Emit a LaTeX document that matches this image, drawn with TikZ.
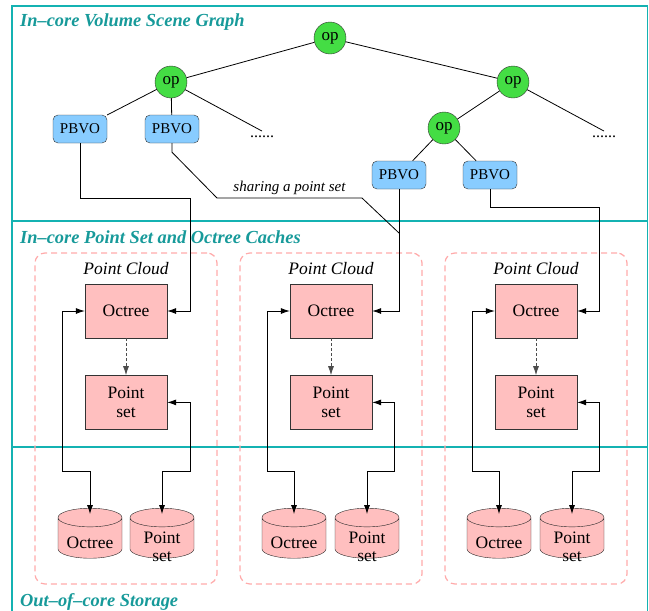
\documentclass[tikz,border=0pt]{standalone}
\usepackage{fontspec}
\setmainfont{Liberation Serif}
\usetikzlibrary{shapes.geometric,arrows.meta,positioning}
\definecolor{cFrame}{HTML}{14B2B2}
\definecolor{cTitle}{HTML}{179A9A}
\definecolor{cOp}{HTML}{44DD44}
\definecolor{cVol}{HTML}{88CCFF}
\definecolor{cCache}{HTML}{FFBFBF}
\definecolor{cGroup}{HTML}{FFAAAA}
\newcommand\boxfont{\fontsize{17.5}{18.5}\selectfont}
\tikzset{
  frame/.style  ={draw=cFrame, line width=1.6pt},
  sect/.style   ={anchor=west, text=cTitle, inner sep=0pt,
                  font=\fontsize{18.4}{20}\selectfont\bfseries\itshape},
  opn/.style    ={circle, draw=black!80, fill=cOp, minimum size=32pt,
                  inner sep=0pt, font=\fontsize{17}{18}\selectfont},
  vol/.style    ={rectangle, rounded corners=5pt, draw=black!80, fill=cVol,
                  minimum width=54pt, minimum height=28pt, inner sep=0pt,
                  font=\fontsize{15}{16}\selectfont},
  more/.style   ={inner sep=0pt, outer sep=5pt, font=\fontsize{16}{16}\selectfont},
  cache/.style  ={rectangle, draw=black!80, fill=cCache, minimum width=82pt,
                  minimum height=54pt, inner sep=0pt, align=center, font=\boxfont},
  store/.style  ={cylinder, shape border rotate=90, aspect=0.3, draw=black!85,
                  fill=cCache, text width=62pt, minimum width=64pt, minimum height=50pt,
                  inner sep=0pt},
  grp/.style    ={rectangle, rounded corners=10pt, draw=cGroup, line width=1.2pt,
                  dash pattern=on 6pt off 4pt, minimum width=182pt, minimum height=331pt},
  grplbl/.style ={font=\boxfont\itshape},
  br/.style     ={draw=black, line width=0.8pt},
  fl/.style     ={-{Latex[length=9pt,width=6pt]}, draw=black, line width=0.8pt},
  dfl/.style    ={{Latex[length=9pt,width=6pt]}-{Latex[length=9pt,width=6pt]},
                  draw=black, line width=0.8pt, shorten >=-6pt},
  dl/.style     ={-{Latex[length=9pt,width=6pt]}, draw=black!70, line width=0.8pt,
                  dash pattern=on 3pt off 2pt},
  lbl/.style    ={font=\fontsize{15}{16}\selectfont\itshape, inner sep=1pt},
}

\begin{document}
\begin{tikzpicture}[x=1pt,y=-1pt]
  \useasboundingbox (0,0) rectangle (649,611);

  % layers
  \draw[frame] (12,611) -- (12,6) -- (647.5,6) -- (647.5,611);
  \draw[frame] (12,221) -- (647.5,221);
  \draw[frame] (12,447) -- (647.5,447);
  \node[sect] (tScene) at (20,22)  {In–core Volume Scene Graph};
  \node[sect] (tCache) at (20,237) {In–core Point Set and Octree Caches};
  \node[sect] (tStore) at (20,602) {Out–of–core Storage};

  % point cloud groups
  \node[grp] (pc1) at (126,418.5) {};
  \node[grp] (pc2) at (331,418.5) {};
  \node[grp] (pc3) at (536,418.5) {};
  \node[grplbl] (pcl1) at (126,269) {Point Cloud};
  \node[grplbl] (pcl2) at (331,269) {Point Cloud};
  \node[grplbl] (pcl3) at (536,269) {Point Cloud};

  % scene graph
  \node[opn] (op0)  at (330,38)  {op};
  \node[opn] (opL)  at (171,82)  {op};
  \node[opn] (opR)  at (513,82)  {op};
  \node[opn] (opRL) at (444,128) {op};
  \node[vol] (pbvo1) at (80,129)  {PBVO};
  \node[vol] (pbvo2) at (172,129) {PBVO};
  \node[vol] (pbvo3) at (399,175) {PBVO};
  \node[vol] (pbvo4) at (490,175) {PBVO};
  \node[more] (dotsL) at (262,137) {......};
  \node[more] (dotsR) at (604,137) {......};

  \draw[br] (op0) -- (opL); \draw[br] (op0) -- (opR);
  \draw[br] (opL) -- (pbvo1); \draw[br] (opL) -- (pbvo2); \draw[br] (opL) -- (dotsL.north);
  \draw[br] (opR) -- (opRL); \draw[br] (opR) -- (dotsR.north);
  \draw[br] (opRL) -- (pbvo3); \draw[br] (opRL) -- (pbvo4);

  % caches
  \node[cache] (oct1) at (126,311) {Octree};
  \node[cache,below=37pt of oct1] (pset1) {Point\\set};
  \node[cache] (oct2) at (331,311) {Octree};
  \node[cache,below=37pt of oct2] (pset2) {Point\\set};
  \node[cache] (oct3) at (536,311) {Octree};
  \node[cache,below=37pt of oct3] (pset3) {Point\\set};
  \draw[dl] (oct1) -- (pset1);
  \draw[dl] (oct2) -- (pset2);
  \draw[dl] (oct3) -- (pset3);

  % storage
  \node[store, label={[font=\boxfont, yshift=-5pt]center:Octree}] (dOct1) at (90,538) {};
  \node[store, label={[font=\boxfont, align=center, yshift=-9pt]center:Point\\set}] (dPts1) at (162,538) {};
  \node[store, label={[font=\boxfont, yshift=-5pt]center:Octree}] (dOct2) at (294,538) {};
  \node[store, label={[font=\boxfont, align=center, yshift=-9pt]center:Point\\set}] (dPts2) at (367,538) {};
  \node[store, label={[font=\boxfont, yshift=-5pt]center:Octree}] (dOct3) at (499,538) {};
  \node[store, label={[font=\boxfont, align=center, yshift=-9pt]center:Point\\set}] (dPts3) at (572,538) {};

  % volumes -> octrees
  \coordinate (join) at (399,233);
  \draw[fl] (pbvo1.south) |- (190,198) |- (oct1.east);
  \draw[br] (pbvo2.south) -- ++(0,9) -- (217,198) -- (362,198)
        node[lbl,midway,above=2pt]{sharing a point set} -- (join);
  \draw[fl] (pbvo3.south) |- (oct2.east);
  \draw[fl] (pbvo4.south) |- (599,207) |- (oct3.east);

  % cache <-> storage
  \draw[dfl] (oct1.west) -| (62,471) -| (dOct1.north);
  \draw[dfl] (pset1.east) -| (190,471) -| (dPts1.north);
  \draw[dfl] (oct2.west) -| (267,471) -| (dOct2.north);
  \draw[dfl] (pset2.east) -| (394,471) -| (dPts2.north);
  \draw[dfl] (oct3.west) -| (472,471) -| (dOct3.north);
  \draw[dfl] (pset3.east) -| (599,471) -| (dPts3.north);
\end{tikzpicture}
\end{document}
